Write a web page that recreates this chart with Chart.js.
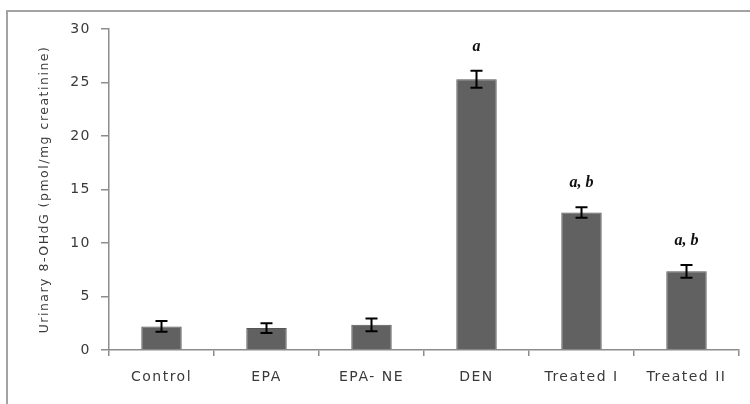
<!DOCTYPE html>
<html>
<head>
<meta charset="utf-8">
<script src="https://cdn.jsdelivr.net/npm/chart.js@4.4.1/dist/chart.umd.min.js"></script>
<style>
	html, body { margin: 0; padding: 0; background: #fff; }
	#wrap { position: relative; width: 750px; height: 404px; }
	#frame {
		position: absolute; left: 6px; top: 10px; right: -4px; bottom: -4px;
		border-left: 2px solid #a3a3a3; border-top: 2px solid #a3a3a3;
		pointer-events: none;
	}
</style>
</head>
<body>
<div id="wrap">
	<canvas id="urinaryChart" width="750" height="404"></canvas>
	<div id="frame"></div>
</div>
<script>
var GROUPS = ['Control', 'EPA', 'EPA- NE', 'DEN', 'Treated I', 'Treated II'];
var MEANS = [2.2, 2.05, 2.35, 25.3, 12.85, 7.35];
var ERRORS = [0.5, 0.45, 0.6, 0.8, 0.5, 0.6];
var MARKS = ['', '', '', 'a', 'a, b', 'a, b'];
var Y_TICKS = [0, 5, 10, 15, 20, 25, 30];

var COLORS = {
	bar: '#616161',
	axis: '#8c8c8c',
	text: '#3a3a3a'
};

var tickFont = { family: 'DejaVu Sans', size: 14 };

// error bars + significance letters, placed through the chart's scales
var errorBarPlugin = {
	id: 'errorBars',
	afterDatasetsDraw: function (chart) {
		var ctx = chart.ctx;
		var x = chart.scales.x;
		var y = chart.scales.y;
		ctx.save();
		ctx.letterSpacing = '0px';
		ctx.strokeStyle = '#000';
		ctx.lineWidth = 2;
		MEANS.forEach(function (m, i) {
			var cx = x.getPixelForValue(i);
			var top = y.getPixelForValue(m + ERRORS[i]);
			var bot = y.getPixelForValue(m - ERRORS[i]);
			ctx.beginPath();
			ctx.moveTo(cx, top);
			ctx.lineTo(cx, bot);
			ctx.moveTo(cx - 6, top);
			ctx.lineTo(cx + 6, top);
			ctx.moveTo(cx - 6, bot);
			ctx.lineTo(cx + 6, bot);
			ctx.stroke();
			if (MARKS[i]) {
				ctx.fillStyle = '#111';
				ctx.font = 'italic bold 16px "Liberation Serif"';
				ctx.textAlign = 'center';
				ctx.textBaseline = 'middle';
				ctx.fillText(MARKS[i], cx, top - 24);
			}
		});
		ctx.restore();
	}
};

// the reference text is a bit stretched
var spacingPlugin = {
	id: 'letterSpacing',
	beforeLayout: function (chart) {
		chart.ctx.letterSpacing = '1.5px';
	},
	beforeDraw: function (chart) {
		chart.ctx.letterSpacing = '1.5px';
	}
};

var urinaryData = {
	labels: GROUPS,
	datasets: [{
		data: MEANS,
		backgroundColor: COLORS.bar,
		borderColor: '#555',
		borderWidth: 1,
		barPercentage: 1,
		categoryPercentage: 0.385
	}]
};

var urinaryOptions = {
	responsive: false,
	animation: false,
	layout: {
		padding: { left: 0, top: 29, right: 11, bottom: 0 }
	},
	scales: {
		x: {
			offset: true,
			grid: {
				display: true,
				offset: true,
				drawOnChartArea: false,
				drawTicks: true,
				tickLength: 6,
				color: COLORS.axis,
				lineWidth: 1.5
			},
			border: { color: COLORS.axis, width: 1.5 },
			ticks: {
				color: COLORS.text,
				font: tickFont,
				padding: 13,
				maxRotation: 0,
				autoSkip: false
			},
			afterFit: function (scale) {
				scale.height = 54;
			}
		},
		y: {
			min: 0,
			max: 30,
			afterBuildTicks: function (scale) {
				scale.ticks = Y_TICKS.map(function (v) { return { value: v }; });
			},
			grid: {
				display: true,
				drawOnChartArea: false,
				drawTicks: true,
				tickLength: 8,
				color: COLORS.axis,
				lineWidth: 1.5
			},
			border: { color: COLORS.axis, width: 1.5 },
			ticks: {
				color: COLORS.text,
				font: tickFont,
				padding: 10
			},
			title: {
				display: true,
				text: 'Urinary 8-OHdG (pmol/mg creatinine)',
				color: COLORS.text,
				font: { family: 'DejaVu Sans', size: 12.5 },
				padding: { top: 37, bottom: 10 }
			},
			afterFit: function (scale) {
				scale.width = 109;
			}
		}
	},
	plugins: {
		legend: { display: false },
		tooltip: { enabled: false }
	}
};

var urinaryChart = new Chart(document.getElementById('urinaryChart'), {
	type: 'bar',
	data: urinaryData,
	options: urinaryOptions,
	plugins: [spacingPlugin, errorBarPlugin]
});
</script>
</body>
</html>
